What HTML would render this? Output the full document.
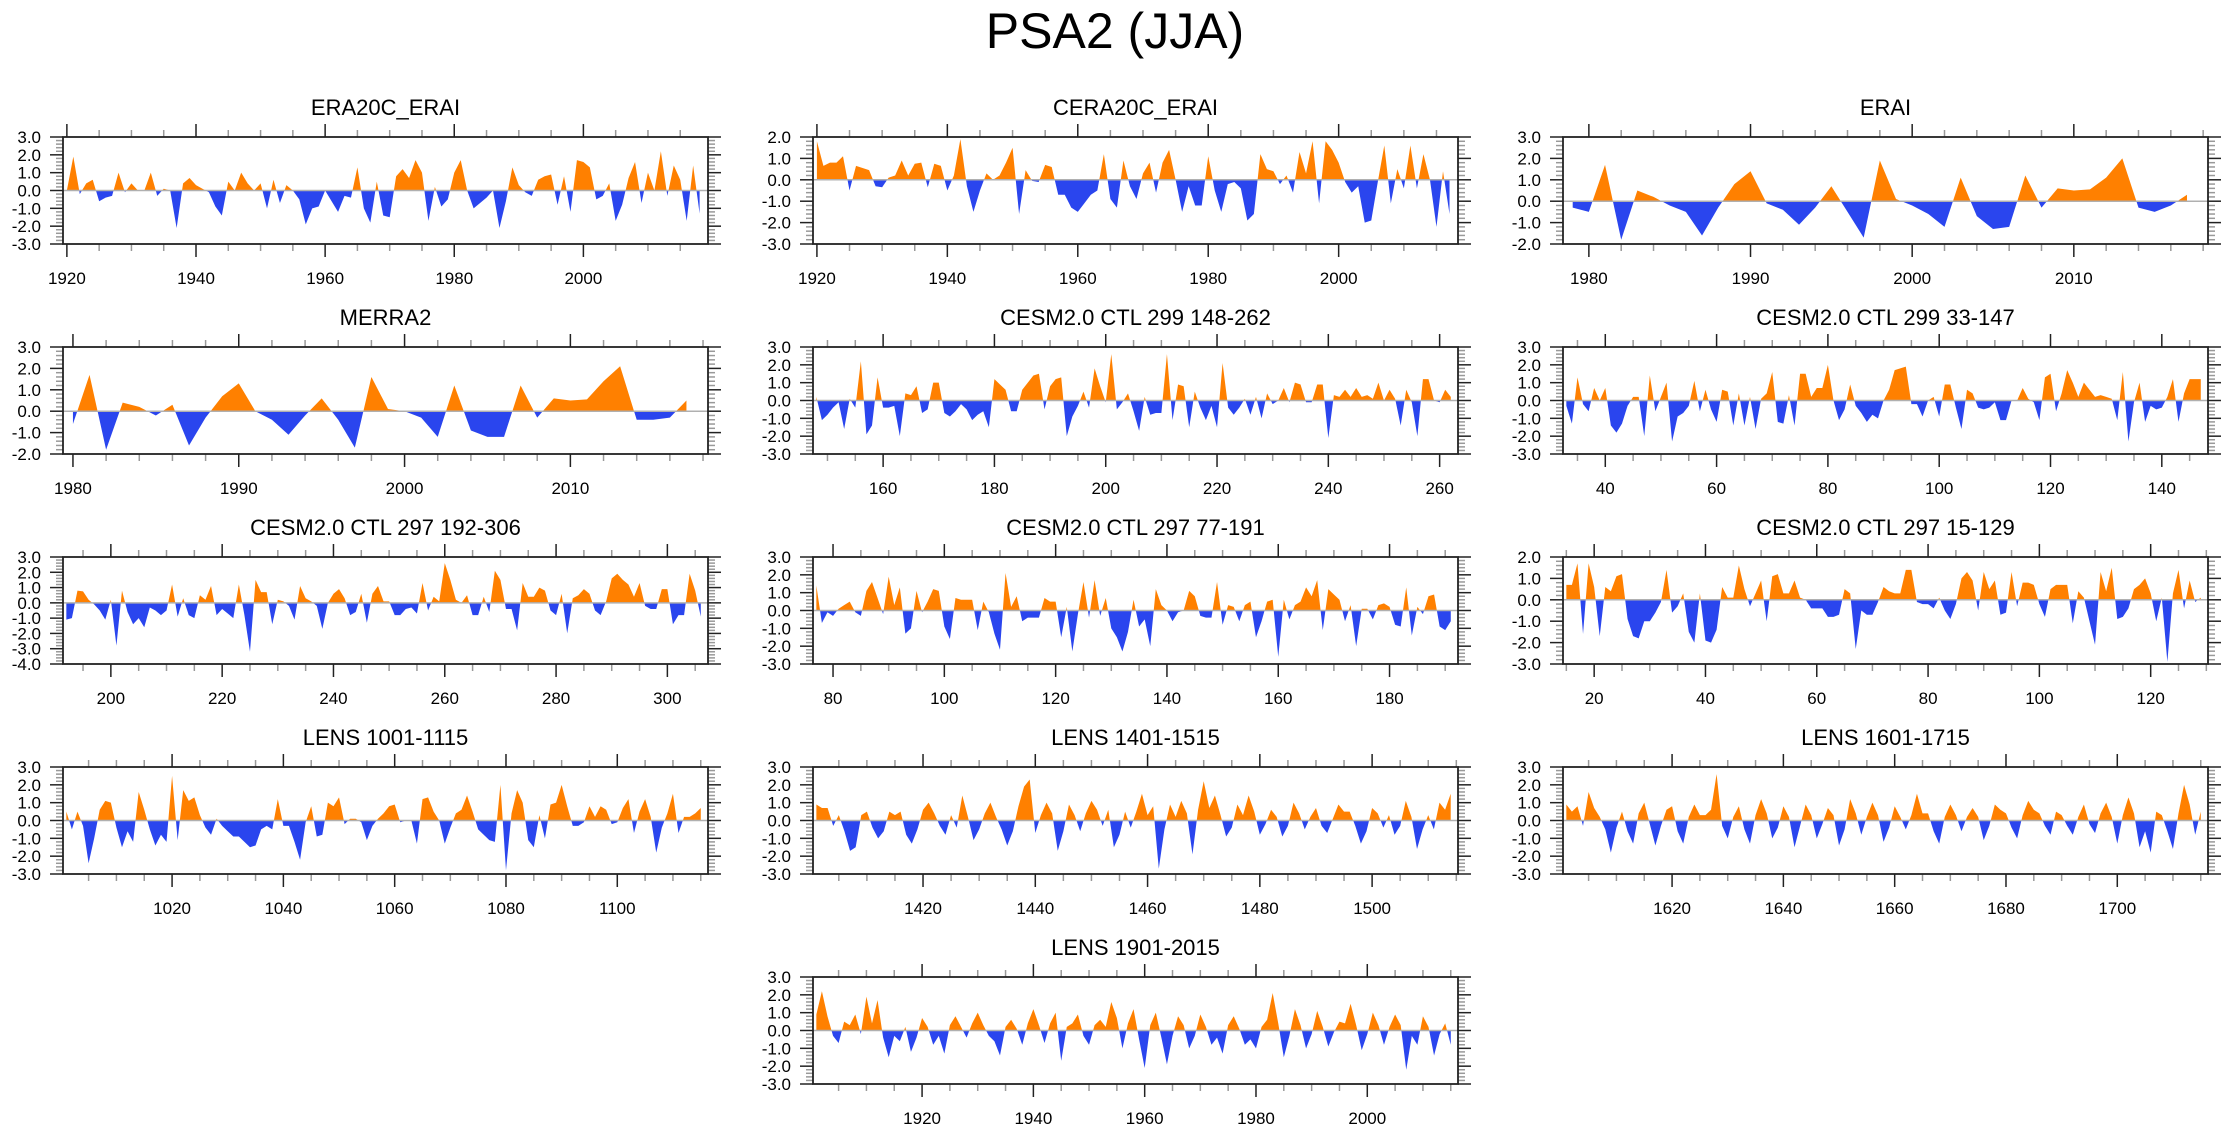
<!DOCTYPE html>
<html>
<head>
<meta charset="utf-8">
<style>
html,body{margin:0;padding:0;background:#fff;}
svg{display:block;font-family:"Liberation Sans",Arial,sans-serif;}
</style>
</head>
<body>
<svg id="chart" width="2230" height="1133" viewBox="0 0 2230 1133" xmlns="http://www.w3.org/2000/svg">
<text x="1115" y="48" text-anchor="middle" font-size="50">PSA2 (JJA)</text>
</svg>
<script>
const era20cStart = 1920;
const era20cValues = [0.0,1.9,-0.2,0.4,0.6,-0.6,-0.4,-0.3,1.0,-0.1,0.4,0.0,0.0,1.0,-0.3,0.1,0.0,-2.1,0.4,0.7,0.3,0.1,-0.1,-0.9,-1.4,0.5,0.0,1.0,0.4,0.0,0.4,-1.0,0.6,-0.7,0.3,0.0,-0.5,-1.9,-1.0,-0.9,0.0,-0.6,-1.2,-0.3,-0.4,1.3,-1.0,-1.8,0.5,-1.4,-1.5,0.8,1.2,0.7,1.7,1.0,-1.7,0.2,-0.9,-0.5,1.0,1.7,0.0,-1.0,-0.7,-0.4,0.0,-2.1,-0.6,1.3,0.3,-0.1,-0.3,0.6,0.8,0.9,-0.8,0.8,-1.2,1.7,1.6,1.3,-0.5,-0.3,0.4,-1.7,-0.8,0.7,1.6,-0.7,1.0,0.0,2.2,-0.3,1.4,0.6,-1.7,1.4,-1.3];
const cera20cStart = 1920;
const cera20cValues = [1.8,0.65,0.8,0.8,1.1,-0.5,0.65,0.55,0.45,-0.3,-0.35,0.1,0.2,0.9,0.2,0.75,0.8,-0.35,0.75,0.65,-0.5,0.2,1.9,-0.3,-1.5,-0.5,0.3,0.0,0.2,0.8,1.5,-1.6,0.45,-0.05,-0.1,0.7,0.6,-0.7,-0.7,-1.3,-1.5,-1.1,-0.7,-0.5,1.2,-0.9,-1.3,0.9,-0.3,-0.9,0.3,0.8,-0.6,0.8,1.4,0.0,-1.5,-0.3,-1.2,-1.2,1.1,-0.5,-1.5,-0.2,-0.1,-0.4,-1.9,-1.6,1.2,0.5,0.4,-0.2,0.2,-0.6,1.3,0.3,1.8,-1.1,1.8,1.4,0.8,-0.1,-0.6,-0.3,-2.0,-1.9,-0.1,1.6,-1.1,0.5,-0.4,1.6,-0.4,1.2,0.0,-2.2,0.4,-1.6];
const eraiStart = 1979;
const eraiValues = [-0.3,-0.5,1.7,-1.8,0.5,0.2,-0.2,-0.5,-1.6,-0.3,0.8,1.4,-0.1,-0.4,-1.1,-0.3,0.7,-0.5,-1.7,1.9,0.1,-0.2,-0.6,-1.2,1.1,-0.7,-1.3,-1.2,1.2,-0.3,0.6,0.5,0.55,1.1,2.0,-0.3,-0.5,-0.2,0.3];
const merra2Start = 1980;
const merra2Values = [-0.6,1.7,-1.8,0.4,0.2,-0.2,0.3,-1.6,-0.3,0.7,1.3,0.0,-0.4,-1.1,-0.2,0.6,-0.4,-1.7,1.6,0.1,0.0,-0.3,-1.2,1.2,-0.9,-1.2,-1.2,1.2,-0.3,0.6,0.5,0.55,1.4,2.1,-0.4,-0.4,-0.3,0.5];
const ctl299aStart = 148;
const ctl299aValues = [0.2,-1.1,-0.8,-0.4,-0.1,-1.6,0.1,-0.4,2.2,-1.9,-1.4,1.3,-0.4,-0.4,-0.3,-2.0,0.4,0.3,0.8,-0.7,-0.5,1.0,1.0,-0.7,-0.9,-0.6,-0.2,-0.5,-1.1,-0.8,-0.6,-1.5,1.2,0.9,0.6,-0.6,-0.6,0.6,1.0,1.4,1.5,-0.5,0.8,1.2,1.3,-2.0,-0.9,-0.3,0.5,-0.4,1.8,0.8,-0.1,2.6,-0.5,-0.1,0.4,-0.6,-1.7,0.2,-0.8,-0.7,-0.7,2.6,-1.1,0.9,0.8,-1.5,0.5,-0.4,-1.1,-0.3,-1.5,2.1,-0.4,-0.8,-0.4,0.1,-0.8,0.2,-1.0,0.4,-0.2,0.0,0.7,-0.1,1.0,0.9,-0.1,-0.1,0.9,0.9,-2.1,0.3,0.2,0.6,0.2,0.7,0.2,0.3,0.1,1.0,0.0,0.6,0.1,-1.4,0.6,-0.1,-2.0,1.2,1.2,0.0,-0.1,0.6,0.2];
const ctl299bStart = 33;
const ctl299bValues = [-0.3,-1.3,1.3,-0.2,-0.6,0.7,0.0,0.7,-1.4,-1.8,-1.3,-0.3,0.2,0.2,-2.0,1.4,-0.6,0.2,1.0,-2.3,-0.9,-0.7,-0.3,1.1,-0.6,0.6,-0.5,-1.2,0.6,0.5,-1.4,0.4,-1.4,0.2,-1.6,0.1,0.4,1.6,-1.2,-1.3,0.3,-1.4,1.5,1.5,0.2,0.7,0.7,2.0,0.0,-1.1,-0.5,0.9,-0.3,-0.7,-1.2,-0.8,-1.0,0.0,0.6,1.7,1.8,1.9,-0.2,-0.2,-0.9,0.0,0.2,-0.9,0.9,0.9,-0.4,-1.6,0.6,0.4,-0.4,-0.5,-0.4,-0.1,-1.1,-1.1,0.0,0.0,0.7,0.1,-0.1,-1.1,1.3,1.5,-0.6,0.4,1.7,1.0,0.2,1.0,0.6,0.2,0.3,0.2,0.1,-1.1,1.6,-2.3,-0.1,1.0,-1.2,-0.3,-0.5,-0.4,0.2,1.2,-1.2,0.4,1.2,1.2,1.2];
const ctl297aStart = 192;
const ctl297aValues = [-1.1,-1.0,0.8,0.75,0.2,-0.1,-0.5,-1.1,0.2,-2.8,0.8,-0.6,-1.4,-1.0,-1.6,-0.3,-0.5,-0.8,-0.5,1.2,-0.9,0.3,-0.8,-1.0,0.5,0.2,1.1,-0.8,-0.4,-0.7,-1.0,1.2,-0.8,-3.2,1.5,0.7,0.7,-1.4,0.2,0.1,-0.2,-1.1,1.1,0.3,0.1,-0.2,-1.7,0.0,0.6,0.9,0.3,-0.8,-0.6,0.6,-1.3,0.6,1.1,0.1,0.1,-0.8,-0.8,-0.4,-0.3,-0.7,1.3,-0.5,0.4,0.1,2.6,1.5,0.2,0.0,0.5,-0.8,-0.8,0.4,-0.6,2.1,1.5,-0.4,-0.4,-1.8,1.3,0.4,0.4,1.0,0.8,-0.5,-0.8,0.6,-2.0,0.3,0.5,0.9,0.6,-0.5,-0.8,0.1,1.6,1.9,1.5,1.2,0.4,1.3,-0.2,-0.4,-0.4,0.9,0.9,-1.4,-0.8,-0.8,1.9,0.8,-0.9];
const ctl297bStart = 77;
const ctl297bValues = [1.4,-0.7,-0.1,-0.3,0.1,0.3,0.5,-0.1,-0.3,1.1,1.6,0.7,-0.2,1.9,0.3,1.3,-1.3,-1.0,1.1,-0.1,0.5,1.2,1.1,-0.9,-1.6,0.7,0.6,0.6,0.6,-1.1,0.5,-0.1,-1.3,-2.2,2.1,0.2,0.8,-0.6,-0.4,-0.4,-0.4,0.7,0.5,0.5,-1.5,0.2,-2.3,-0.2,1.6,-0.4,1.7,-0.3,0.7,-1.0,-1.5,-2.3,-1.2,0.6,-0.9,-0.5,-2.0,1.2,0.3,0.0,-0.6,-0.1,0.0,1.1,0.8,-0.3,-0.4,-0.4,1.6,-0.8,0.3,0.2,-0.6,0.3,0.5,-1.5,-0.6,0.5,0.6,-2.6,0.6,-0.5,0.3,0.5,1.3,0.8,1.7,-1.1,1.2,0.9,0.6,-0.6,0.3,-2.0,0.1,0.1,-0.5,0.3,0.4,0.2,-0.8,-0.9,1.3,-1.4,0.2,-0.2,0.8,0.9,-0.9,-1.1,-0.6];
const ctl297cStart = 15;
const ctl297cValues = [0.7,0.7,1.7,-1.6,1.7,0.6,-1.7,0.6,0.4,1.1,1.2,-0.9,-1.7,-1.8,-1.0,-1.0,-0.6,-0.1,1.4,-0.6,-0.3,0.3,-1.5,-2.0,0.3,-1.9,-2.0,-1.4,0.6,0.1,0.1,1.6,0.5,-0.3,0.3,0.9,-1.0,1.1,1.2,0.3,0.3,0.9,0.1,0.0,-0.4,-0.4,-0.4,-0.8,-0.8,-0.7,0.5,0.3,-2.3,-0.5,-0.7,-0.7,-0.1,0.6,0.4,0.3,0.3,1.4,1.4,-0.1,-0.2,-0.2,-0.4,0.1,-0.5,-0.9,-0.2,1.0,1.3,0.9,-0.5,1.3,0.5,0.9,-0.7,-0.6,1.3,-0.3,0.8,0.8,0.7,-0.2,-0.8,0.5,0.7,0.7,0.7,-1.1,0.4,0.1,-1.0,-2.1,1.3,0.4,1.5,-0.9,-0.8,-0.4,0.5,0.7,1.0,0.3,-1.0,0.1,-2.9,0.3,1.4,-0.4,0.9,-0.1,0.1];
const lens1001Start = 1001;
const lens1001Values = [0.5,-0.5,0.5,-0.3,-2.4,-1.0,0.6,1.1,1.0,-0.4,-1.5,-0.6,-1.2,1.6,0.6,-0.5,-1.4,-0.8,-1.2,2.5,-1.1,1.7,1.1,1.3,0.3,-0.4,-0.8,0.1,-0.3,-0.6,-0.9,-0.9,-1.2,-1.5,-1.4,-0.5,-0.3,-0.5,1.2,-0.3,-0.3,-1.2,-2.2,-0.1,0.8,-0.9,-0.8,1.0,0.8,1.3,-0.2,0.1,0.1,-0.1,-1.1,-0.3,0.1,0.4,0.8,0.9,-0.1,0.0,0.0,-1.3,1.2,1.3,0.5,0.0,-1.3,-0.4,0.4,0.6,1.4,0.5,-0.5,-0.8,-1.1,-1.2,2.0,-2.8,0.4,1.7,1.0,-1.1,-1.5,0.3,-1.0,0.9,1.0,2.0,0.8,-0.3,-0.3,-0.1,0.8,0.2,0.8,0.6,-0.2,-0.1,0.7,1.2,-0.7,0.5,1.2,0.2,-1.8,-0.4,0.4,1.5,-0.7,0.2,0.2,0.4,0.7];
const lens1401Start = 1401;
const lens1401Values = [0.9,0.7,0.7,-0.3,0.3,-0.6,-1.7,-1.5,0.3,0.5,-0.4,-1.0,-0.6,0.5,0.3,0.5,-0.8,-1.3,-0.5,0.6,1.0,0.4,-0.3,-0.8,0.3,-0.4,1.4,0.2,-1.1,-0.5,0.4,1.0,0.2,-0.5,-1.4,-0.6,0.8,1.9,2.3,-0.7,0.3,1.0,0.4,-1.7,-0.6,0.9,0.3,-0.6,0.4,1.1,0.6,-0.3,0.6,-1.5,-0.8,0.5,-0.4,0.5,1.5,0.3,0.8,-2.7,-0.5,0.9,0.2,1.1,0.4,-1.9,0.6,2.2,0.7,1.4,0.3,-0.9,-0.4,0.9,0.3,1.4,0.5,-0.8,-0.2,0.6,0.2,-0.9,-0.3,1.0,0.4,-0.5,0.2,0.7,-0.3,-0.7,0.1,0.9,0.5,0.5,-0.3,-1.3,-0.6,0.7,0.4,-0.4,0.3,-0.8,-0.3,1.1,0.2,-1.6,-0.5,0.3,-0.5,1.0,0.6,1.5];
const lens1601Start = 1601;
const lens1601Values = [0.9,0.5,0.8,-0.3,1.6,0.7,0.2,-0.5,-1.8,-0.4,0.5,-0.6,-1.3,0.4,1.0,-0.2,-1.4,-0.3,0.6,0.8,-0.6,-1.3,0.2,0.9,0.3,0.3,0.6,2.6,-0.3,-1.0,0.2,0.8,-0.5,-1.3,0.3,1.2,0.4,-1.0,-0.4,0.8,0.2,-1.5,-0.3,0.9,0.3,-1.0,-0.2,0.7,0.3,-1.4,-0.5,1.2,0.4,-0.8,0.2,1.0,0.3,-1.2,-0.4,0.8,0.2,-0.5,0.3,1.5,0.4,0.4,-0.6,-1.3,0.2,0.9,0.3,-0.6,0.2,0.7,0.2,-1.1,-0.3,0.9,0.6,0.4,-0.4,-1.0,0.3,1.1,0.6,0.4,-0.3,-0.8,0.5,0.3,-0.3,-0.8,0.2,0.9,-0.2,-0.7,0.4,1.0,0.2,-1.3,0.3,1.3,0.4,-1.5,-0.6,-1.8,0.5,0.3,-0.6,-1.6,0.4,2.0,0.9,-0.8,0.5];
const lens1901Start = 1901;
const lens1901Values = [0.9,2.2,0.8,-0.3,-0.7,0.5,0.3,0.9,-0.2,1.9,0.4,1.7,-0.4,-1.5,-0.3,-0.6,0.2,-1.2,-0.4,0.7,0.2,-0.8,-0.3,-1.3,0.3,0.8,0.2,-0.4,0.4,1.0,0.3,-0.3,-0.6,-1.4,0.2,0.6,0.1,-0.8,0.4,1.2,0.3,-0.7,0.4,1.0,-1.7,0.2,0.4,0.9,-0.3,-0.8,0.3,0.6,0.2,1.6,0.7,-1.0,0.4,1.2,-0.5,-2.1,0.3,1.0,-0.4,-1.9,-0.3,0.8,0.3,-1.0,-0.3,0.9,0.2,-0.8,-0.4,-1.3,0.3,0.8,0.1,-0.8,-0.5,-1.0,0.2,0.6,2.1,0.4,-1.5,-0.3,1.2,0.3,-1.0,-0.2,1.1,0.2,-0.9,-0.1,0.5,0.4,1.5,0.3,-1.1,-0.2,1.0,0.3,-0.8,0.2,0.9,0.3,-2.2,-0.3,-0.8,0.8,0.2,-1.4,-0.2,0.4,-0.8];

const panelTitles = ["ERA20C_ERAI","CERA20C_ERAI","ERAI","MERRA2","CESM2.0 CTL 299 148-262","CESM2.0 CTL 299 33-147","CESM2.0 CTL 297 192-306","CESM2.0 CTL 297 77-191","CESM2.0 CTL 297 15-129","LENS 1001-1115","LENS 1401-1515","LENS 1601-1715","LENS 1901-2015"];
const panelStarts = [era20cStart,cera20cStart,eraiStart,merra2Start,ctl299aStart,ctl299bStart,ctl297aStart,ctl297bStart,ctl297cStart,lens1001Start,lens1401Start,lens1601Start,lens1901Start];
const panelSeries = [era20cValues,cera20cValues,eraiValues,merra2Values,ctl299aValues,ctl299bValues,ctl297aValues,ctl297bValues,ctl297cValues,lens1001Values,lens1401Values,lens1601Values,lens1901Values];
const panelYMin = [-3,-3,-2,-2,-3,-3,-4,-3,-3,-3,-3,-3,-3];
const panelYMax = [3,2,3,3,3,3,3,3,2,3,3,3,3];
const panelXMajor = [20,20,10,10,20,20,20,20,20,20,20,20,20];
const panelXMinor = [5,5,2,2,5,5,5,5,5,5,5,5,5];

const NS = "http://www.w3.org/2000/svg";
const svg = document.getElementById("chart");
const COLX = [63, 813, 1563];
const ROWY = [137, 347, 557, 767, 977];
const W = 645, H = 107;
const slots = [[0,0],[1,0],[2,0],[0,1],[1,1],[2,1],[0,2],[1,2],[2,2],[0,3],[1,3],[2,3],[1,4]];

function mk(tag, attrs, parent) {
  const e = document.createElementNS(NS, tag);
  for (const k in attrs) e.setAttribute(k, attrs[k]);
  (parent || svg).appendChild(e);
  return e;
}
function slug(s){return s.toLowerCase().replace(/[^a-z0-9]+/g,'-').replace(/^-|-$/g,'');}

panelTitles.forEach((title, idx) => {
  const bx = COLX[slots[idx][0]], by = ROWY[slots[idx][1]];
  const vals = panelSeries[idx], start = panelStarts[idx];
  const end = start + vals.length - 1;
  const xmin = start - 0.6, xmax = end + 1.3;
  const ymin = panelYMin[idx], ymax = panelYMax[idx];
  const sx = v => bx + (v - xmin) / (xmax - xmin) * W;
  const sy = v => by + (ymax - v) / (ymax - ymin) * H;
  const nm = slug(title);

  const g = mk('g', {});
  
  

  const t = mk('text', {x: bx + W/2, y: by - 22, 'text-anchor': 'middle', 'font-size': 22}, g);
  t.textContent = title;
  
  

  const y0 = sy(0);
  const cidA = 'ca' + idx, cidB = 'cb' + idx;
  const defs = mk('defs', {}, g);
  const cpA = mk('clipPath', {id: cidA}, defs);
  mk('rect', {x: bx, y: by, width: W, height: y0 - by}, cpA);
  const cpB = mk('clipPath', {id: cidB}, defs);
  mk('rect', {x: bx, y: y0, width: W, height: by + H - y0}, cpB);
  let d = 'M' + sx(start).toFixed(2) + ',' + y0.toFixed(2);
  vals.forEach((v, i) => { d += ' L' + sx(start + i).toFixed(2) + ',' + sy(v).toFixed(2); });
  d += ' L' + sx(end).toFixed(2) + ',' + y0.toFixed(2) + ' Z';
  const pa = mk('path', {d: d, fill: '#ff8000', 'clip-path': 'url(#' + cidA + ')'}, g);
  
  
  const pb = mk('path', {d: d, fill: '#2a45ee', 'clip-path': 'url(#' + cidB + ')'}, g);
  
  

  const zl = mk('line', {x1: bx, x2: bx + W, y1: y0, y2: y0, stroke: '#b0b0b0', 'stroke-width': 1.5}, g);
  
  

  for (let k = Math.round(ymin * 5); k <= Math.round(ymax * 5); k++) {
    const v = k / 5, yy = sy(v);
    const major = (k % 5 === 0);
    const len = major ? 13 : 7;
    const col = major ? '#222' : '#999';
    mk('line', {x1: bx - len, x2: bx, y1: yy, y2: yy, stroke: col, 'stroke-width': 1.5}, g);
    mk('line', {x1: bx + W, x2: bx + W + len, y1: yy, y2: yy, stroke: col, 'stroke-width': 1.5}, g);
    if (major) {
      const lt = mk('text', {x: bx - 22, y: yy + 6, 'text-anchor': 'end', 'font-size': 17}, g);
      lt.textContent = v.toFixed(1);
      
      
    }
  }
  const mj = panelXMajor[idx], mn = panelXMinor[idx];
  for (let v = Math.ceil(xmin / mn) * mn; v <= xmax; v += mn) {
    const xx = sx(v);
    const major = (v % mj === 0);
    const len = major ? 13 : 7;
    const col = major ? '#222' : '#999';
    mk('line', {x1: xx, x2: xx, y1: by - len, y2: by, stroke: col, 'stroke-width': 1.5}, g);
    mk('line', {x1: xx, x2: xx, y1: by + H, y2: by + H + len, stroke: col, 'stroke-width': 1.5}, g);
    if (major) {
      const lt = mk('text', {x: xx, y: by + H + 40, 'text-anchor': 'middle', 'font-size': 17}, g);
      lt.textContent = String(v);
      
      
    }
  }
  const box = mk('rect', {x: bx, y: by, width: W, height: H, fill: 'none', stroke: '#222', 'stroke-width': 1.8}, g);
  
  
});
</script>
</body>
</html>
